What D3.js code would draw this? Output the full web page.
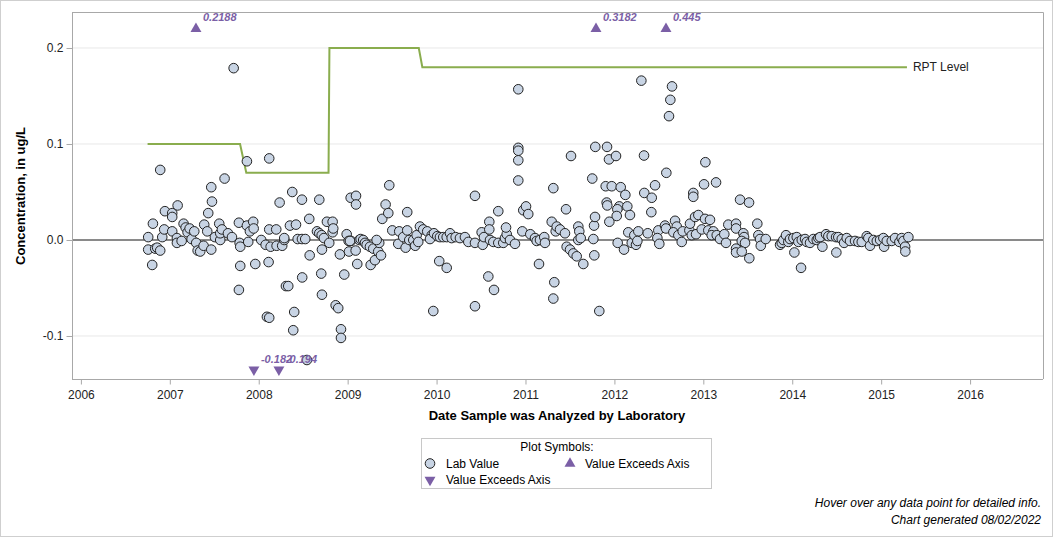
<!DOCTYPE html>
<html>
<head>
<meta charset="utf-8">
<script src="https://cdn.jsdelivr.net/npm/d3@7"></script>
<style>
  body { margin: 0; background: #fff; }
  svg { display: block; font-family: "Liberation Sans", Arial, sans-serif; }
</style>
</head>
<body>
<svg id="area" width="1056" height="538"></svg>
<script>
// lab values: [decimal year analyzed, concentration ug/L]
const labValues = [
  [2006.757, 0.003], [2006.757, -0.010], [2006.802, -0.026], [2006.810, 0.017], [2006.836, -0.009],
  [2006.858, -0.008], [2006.892, -0.011], [2006.892, 0.073], [2006.915, 0.003], [2006.937, 0.011],
  [2006.945, 0.030], [2007.027, 0.028], [2007.027, 0.024], [2007.088, 0.036], [2007.027, 0.009],
  [2007.080, 0.002], [2007.080, -0.003], [2007.133, -0.001], [2007.155, 0.017], [2007.178, 0.013],
  [2007.200, 0.008], [2007.223, 0.012], [2007.245, 0.001], [2007.275, 0.009], [2007.297, -0.003],
  [2007.313, -0.011], [2007.342, -0.012], [2007.380, -0.006], [2007.387, 0.016], [2007.421, 0.009],
  [2007.432, 0.028], [2007.466, 0.055], [2007.474, 0.040], [2007.466, -0.010], [2007.507, 0.003],
  [2007.556, 0.017], [2007.567, 0.000], [2007.567, 0.007], [2007.586, 0.011], [2007.616, 0.064],
  [2007.654, 0.007], [2007.699, 0.003], [2007.718, 0.179], [2007.777, 0.018], [2007.785, -0.003],
  [2007.792, -0.007], [2007.792, -0.027], [2007.777, -0.052], [2007.867, 0.082], [2007.882, -0.002],
  [2007.867, 0.015], [2007.901, 0.009], [2007.938, 0.019], [2007.943, 0.012], [2007.961, -0.025],
  [2008.028, 0.000], [2008.078, -0.005], [2008.092, -0.080], [2008.118, -0.081], [2008.111, -0.023],
  [2008.118, 0.011], [2008.118, 0.085], [2008.134, -0.007], [2008.197, 0.011], [2008.201, -0.006],
  [2008.235, 0.039], [2008.264, -0.006], [2008.287, 0.000], [2008.287, 0.002], [2008.306, -0.048],
  [2008.332, -0.048], [2008.351, 0.015], [2008.377, 0.050], [2008.399, -0.075], [2008.388, -0.094],
  [2008.419, 0.016], [2008.438, 0.001], [2008.486, 0.042], [2008.486, 0.001], [2008.489, -0.039],
  [2008.523, 0.001], [2008.568, 0.022], [2008.573, -0.016], [2008.542, -0.125], [2008.681, 0.042],
  [2008.655, 0.009], [2008.681, 0.007], [2008.708, 0.005], [2008.711, -0.010], [2008.703, -0.035],
  [2008.711, -0.057], [2008.733, 0.002], [2008.767, 0.019], [2008.793, -0.003], [2008.831, 0.019],
  [2008.831, 0.008], [2008.838, 0.012], [2008.865, -0.068], [2008.894, -0.071], [2008.913, -0.015],
  [2008.962, -0.036], [2008.925, -0.093], [2008.925, -0.102], [2008.989, 0.006], [2009.011, -0.001],
  [2009.015, -0.012], [2009.034, 0.044], [2009.094, 0.046], [2009.094, 0.037], [2009.037, -0.001],
  [2009.090, -0.011], [2009.108, -0.025], [2009.131, 0.000],
  [2009.026, -0.001], [2009.146, 0.001], [2009.175, 0.000], [2009.195, -0.003], [2009.214, -0.005],
  [2009.251, -0.007], [2009.288, -0.009], [2009.259, -0.026], [2009.307, -0.021], [2009.344, -0.012],
  [2009.355, -0.003], [2009.326, 0.000], [2009.375, -0.016], [2009.389, 0.022], [2009.427, 0.037],
  [2009.457, 0.028], [2009.468, 0.057], [2009.502, 0.010], [2009.580, 0.009], [2009.569, -0.004],
  [2009.625, 0.003], [2009.670, 0.010], [2009.652, -0.008], [2009.670, 0.029], [2009.693, 0.000],
  [2009.738, 0.000], [2009.760, -0.006], [2009.776, 0.005], [2009.794, -0.002], [2009.813, 0.014],
  [2009.850, 0.011], [2009.895, 0.009], [2009.945, 0.005], [2009.926, 0.001], [2009.971, 0.007],
  [2010.008, 0.004], [2010.038, 0.003], [2010.030, -0.022], [2010.114, -0.029], [2010.075, 0.003],
  [2010.114, 0.003], [2010.151, 0.007], [2010.170, 0.002], [2010.215, 0.003], [2010.263, 0.002],
  [2010.319, 0.003], [2010.357, -0.002], [2009.963, -0.074], [2010.432, 0.046], [2010.432, -0.003],
  [2010.432, -0.069], [2010.507, 0.008], [2010.519, -0.005], [2010.533, 0.003], [2010.593, 0.019],
  [2010.593, 0.011], [2010.582, -0.038], [2010.646, -0.052], [2010.694, 0.030], [2010.601, 0.000],
  [2010.638, -0.002], [2010.694, -0.003], [2010.750, -0.003], [2010.769, 0.002], [2010.789, 0.006],
  [2010.781, 0.013], [2010.826, 0.000], [2010.882, -0.004], [2010.919, 0.157], [2010.919, 0.096],
  [2010.919, 0.093], [2010.919, 0.083], [2010.919, 0.062], [2010.964, 0.009], [2010.975, 0.031],
  [2011.006, 0.035], [2011.031, 0.027], [2011.054, 0.006], [2011.107, 0.002], [2011.126, -0.001],
  [2011.163, 0.000], [2011.211, 0.003], [2011.219, -0.003], [2011.152, -0.025], [2011.313, 0.054],
  [2011.324, -0.044], [2011.313, -0.061],
  [2011.295, 0.019], [2011.340, 0.009], [2011.351, 0.014], [2011.388, 0.011], [2011.444, 0.007],
  [2011.456, 0.032], [2011.463, -0.007], [2011.501, -0.010], [2011.538, -0.014], [2011.576, -0.017],
  [2011.650, -0.025], [2011.594, 0.014], [2011.605, 0.009], [2011.594, 0.000], [2011.621, 0.002],
  [2011.512, 0.0875], [2011.763, 0.001], [2011.771, 0.015], [2011.782, 0.024], [2011.774, -0.016],
  [2011.751, 0.064], [2011.785, 0.097], [2011.830, -0.074], [2011.902, 0.056], [2011.970, 0.056],
  [2012.071, 0.055], [2012.123, 0.047], [2011.913, 0.039], [2011.920, 0.036], [2012.055, 0.035],
  [2012.033, 0.032], [2012.026, 0.025], [2012.145, 0.035], [2012.175, 0.026], [2011.943, 0.019],
  [2011.917, 0.097], [2011.939, 0.084], [2012.018, 0.0875], [2012.037, -0.003], [2012.108, -0.010],
  [2012.156, 0.008], [2012.195, -0.003], [2012.224, 0.005], [2012.243, -0.005], [2012.269, 0.009],
  [2012.258, -0.001], [2012.303, 0.166], [2012.333, 0.088], [2012.336, 0.049], [2012.420, 0.044],
  [2012.415, 0.029], [2012.375, 0.007], [2012.457, 0.057], [2012.494, 0.010], [2012.483, 0.002],
  [2012.505, -0.004], [2012.584, 0.070], [2012.569, 0.015], [2012.580, 0.012], [2012.614, 0.129],
  [2012.629, 0.146], [2012.648, 0.160], [2012.682, 0.020], [2012.701, 0.014], [2012.663, 0.008],
  [2012.719, 0.005], [2012.757, -0.002], [2012.768, 0.009], [2012.843, 0.010], [2012.850, 0.017],
  [2012.870, 0.005], [2012.887, 0.049], [2012.887, 0.045], [2012.907, 0.024], [2012.944, 0.026],
  [2012.918, 0.006], [2012.982, 0.011], [2013.008, 0.058], [2013.023, 0.081], [2013.019, 0.022],
  [2013.056, 0.010], [2013.075, 0.021], [2013.143, 0.060], [2013.413, 0.042], [2013.514, 0.039],
  [2013.113, 0.009], [2013.094, 0.005], [2013.151, 0.005], [2013.188, 0.001], [2013.236, 0.006],
  [2013.255, -0.003], [2013.281, 0.016], [2013.368, 0.017], [2013.368, 0.012], [2013.450, 0.007],
  [2013.458, 0.003], [2013.432, -0.001], [2013.469, -0.003], [2013.368, -0.009], [2013.368, -0.013],
  [2013.432, -0.012], [2013.517, -0.019], [2013.607, 0.017], [2013.619, 0.005], [2013.638, 0.001],
  [2013.646, -0.006], [2013.702, 0.001],
  [2013.863, -0.005], [2013.882, -0.003], [2013.900, 0.000], [2013.930, 0.005], [2013.956, -0.002],
  [2013.975, 0.001], [2014.013, 0.002], [2014.024, -0.013], [2014.051, 0.003], [2014.069, -0.002],
  [2014.099, -0.029], [2014.107, 0.000], [2014.144, 0.001], [2014.163, -0.002], [2014.200, -0.003],
  [2014.237, 0.001], [2014.276, 0.000], [2014.294, 0.002], [2014.313, 0.003], [2014.339, -0.007],
  [2014.380, 0.006], [2014.406, 0.004], [2014.444, 0.004], [2014.493, 0.003], [2014.496, -0.013],
  [2014.518, 0.003], [2014.557, 0.001], [2014.583, -0.003], [2014.613, 0.002], [2014.650, -0.001],
  [2014.706, -0.001], [2014.744, -0.002], [2014.782, -0.002], [2014.838, 0.004], [2014.856, 0.002],
  [2014.875, -0.006], [2014.912, 0.000], [2014.951, -0.001], [2014.988, 0.000], [2015.025, 0.002],
  [2015.033, -0.007], [2015.063, -0.001], [2015.119, -0.001], [2015.156, 0.002], [2015.205, -0.002],
  [2015.231, 0.002], [2015.250, -0.001], [2015.269, -0.007], [2015.272, -0.012], [2015.306, 0.003]
];

// values beyond the axis range
const exceedUp = [[2007.294, 0.2188], [2011.793, 0.3182], [2012.580, 0.445]];
const exceedDown = [[2007.946, -0.182], [2008.227, -0.194]];

// reporting level step line
const rptDates = [2006.75, 2007.79, 2007.86, 2008.785, 2008.795, 2009.80, 2009.84, 2015.29];
const rptLevels = [0.1, 0.1, 0.07, 0.07, 0.2, 0.2, 0.18, 0.18];

const yearTicks = [2006, 2007, 2008, 2009, 2010, 2011, 2012, 2013, 2014, 2015, 2016];
const valueTicks = [-0.1, 0.0, 0.1, 0.2];

const svg = d3.select('#area');
const purple = '#7b5fa6';
const green = '#8aad4e';
const font = '"Liberation Sans", Arial, sans-serif';

const x = d3.scaleLinear([2005.9, 2016.82], [72, 1043]);
const y = d3.scaleLinear([-0.1448, 0.2375], [379, 12]);

// outer border
svg.append('rect')
  .attr('x', 0.5).attr('y', 0.5)
  .attr('width', 1052).attr('height', 536)
  .attr('fill', '#fff')
  .attr('stroke', '#cfcfcf');

// grid
svg.append('g')
  .selectAll('line')
  .data(valueTicks.filter((d) => d !== 0))
  .join('line')
  .attr('x1', 72).attr('x2', 1043)
  .attr('y1', (d) => y(d)).attr('y2', (d) => y(d))
  .attr('stroke', '#e8e8e8');

// frame top/right
svg.append('path')
  .attr('d', `M72,${y.range()[1] + 0.5}H1043.5V379`)
  .attr('fill', 'none')
  .attr('stroke', '#a8a8a8');

// zero line
svg.append('line')
  .attr('x1', 72).attr('x2', 1043)
  .attr('y1', y(0)).attr('y2', y(0))
  .attr('stroke', '#8a8a8a')
  .attr('stroke-width', 2);

// axes
const xAxis = svg.append('g')
  .attr('transform', 'translate(0,379.5)')
  .call(d3.axisBottom(x).tickValues(yearTicks).tickFormat(d3.format('d')).tickSize(5).tickSizeOuter(0));
const yAxis = svg.append('g')
  .attr('transform', 'translate(72.5,0)')
  .call(d3.axisLeft(y).tickValues(valueTicks)
    .tickFormat((d) => d.toFixed(1))
    .tickSize(6).tickSizeOuter(0));
[xAxis, yAxis].forEach((g) => {
  g.select('.domain').attr('stroke', '#a8a8a8');
  g.selectAll('.tick line').attr('stroke', '#a8a8a8');
  g.selectAll('.tick text')
    .attr('fill', '#222')
    .style('font', `12px ${font}`);
});
xAxis.select('.domain').attr('d', 'M72,0H1043');
yAxis.select('.domain').attr('d', 'M0,12V380');
xAxis.selectAll('.tick text').attr('dy', '0.95em');

// axis titles
svg.append('text')
  .attr('x', 557).attr('y', 420)
  .attr('text-anchor', 'middle')
  .style('font', `bold 13px ${font}`)
  .text('Date Sample was Analyzed by Laboratory');
svg.append('text')
  .attr('transform', 'translate(25,196) rotate(-90)')
  .attr('text-anchor', 'middle')
  .style('font', `bold 13px ${font}`)
  .text('Concentration, in ug/L');

// RPT line
svg.append('path')
  .datum(d3.zip(rptDates, rptLevels))
  .attr('d', d3.line().x((d) => x(d[0])).y((d) => y(d[1])))
  .attr('fill', 'none')
  .attr('stroke', green)
  .attr('stroke-width', 2);
svg.append('text')
  .attr('x', x(rptDates[rptDates.length - 1]) + 6)
  .attr('y', y(rptLevels[rptLevels.length - 1]) + 4)
  .style('font', `12px ${font}`)
  .attr('fill', '#222')
  .text('RPT Level');

// lab value points
svg.append('g')
  .attr('fill', '#c8d4e4')
  .attr('stroke', '#222')
  .attr('stroke-width', 1)
  .selectAll('circle')
  .data(labValues)
  .join('circle')
  .attr('r', 4.8)
  .attr('cx', (d) => x(d[0]))
  .attr('cy', (d) => y(d[1]));

// exceedance markers
const tri = d3.symbol(d3.symbolTriangle, 52);
const upY = y(0.22);
const downY = y(-0.135);
svg.append('g').selectAll('path')
  .data(exceedUp)
  .join('path')
  .attr('d', tri)
  .attr('fill', purple)
  .attr('transform', (d) => `translate(${x(d[0])},${upY})`);
svg.append('g').selectAll('path')
  .data(exceedDown)
  .join('path')
  .attr('d', tri)
  .attr('fill', purple)
  .attr('transform', (d) => `translate(${x(d[0])},${downY}) rotate(180)`);

svg.append('g').selectAll('text')
  .data(exceedUp.map((d) => [d[0], d[1], upY - 8]).concat(exceedDown.map((d) => [d[0], d[1], downY - 7])))
  .join('text')
  .attr('x', (d) => x(d[0]) + 7)
  .attr('y', (d) => d[2])
  .attr('fill', purple)
  .style('font', `italic bold 11px ${font}`)
  .text((d) => String(d[1]));

// legend
const legend = svg.append('g');
legend.append('rect')
  .attr('x', 421.5).attr('y', 438.5)
  .attr('width', 290).attr('height', 50)
  .attr('fill', '#fff')
  .attr('stroke', '#c8c8c8');
legend.append('text')
  .attr('x', 557).attr('y', 451)
  .attr('text-anchor', 'middle')
  .style('font', `12px ${font}`)
  .text('Plot Symbols:');
legend.append('circle')
  .attr('cx', 430).attr('cy', 463.5).attr('r', 4.8)
  .attr('fill', '#c8d4e4').attr('stroke', '#222');
legend.append('path')
  .attr('d', tri)
  .attr('fill', purple)
  .attr('transform', 'translate(570,463.5)');
legend.append('path')
  .attr('d', tri)
  .attr('fill', purple)
  .attr('transform', 'translate(430,480) rotate(180)');
const legendItems = [['Lab Value', 446, 468], ['Value Exceeds Axis', 585, 468], ['Value Exceeds Axis', 446, 484]];
legend.selectAll('text.item')
  .data(legendItems)
  .join('text')
  .attr('class', 'item')
  .attr('x', (d) => d[1]).attr('y', (d) => d[2])
  .style('font', `12px ${font}`)
  .text((d) => d[0]);

// footnotes
svg.append('g').selectAll('text')
  .data(['Hover over any data point for detailed info.', 'Chart generated 08/02/2022'])
  .join('text')
  .attr('x', 1041)
  .attr('y', (d, i) => 507 + i * 17)
  .attr('text-anchor', 'end')
  .style('font', `italic 12px ${font}`)
  .text((d) => d);
</script>
</body>
</html>
